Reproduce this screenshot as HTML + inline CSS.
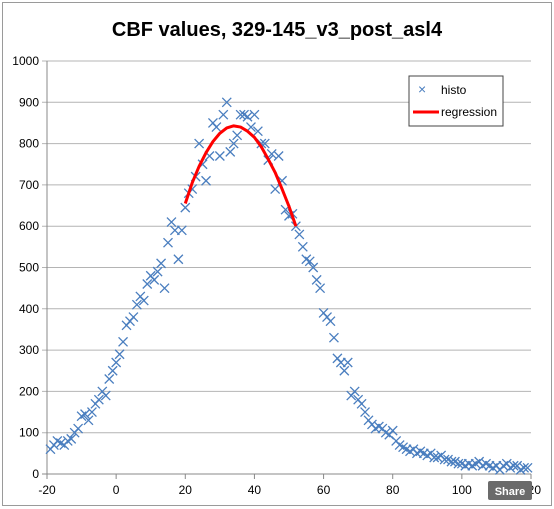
<!DOCTYPE html>
<html><head><meta charset="utf-8"><style>
body{margin:0;background:#fff;font-family:"Liberation Sans",sans-serif}
#frame{position:absolute;left:2px;top:2px;width:548px;height:502px;border:1px solid #9a9a9a;background:#fff}
</style></head><body>
<div id="frame"></div>
<svg id="chart" width="554" height="509" style="position:absolute;left:0;top:0">
<text x="277" y="36" text-anchor="middle" font-size="20" font-weight="bold" fill="#000">CBF values, 329-145_v3_post_asl4</text>
<g id="grid"></g><g id="axes"></g><g id="marks"></g>
<g>
<rect x="409" y="76" width="94" height="50" fill="#fff" stroke="#444"/>
<text x="418" y="94" font-size="14" fill="#4a7ebf">×</text>
<text x="441" y="94" font-size="12" fill="#000">histo</text>
<line x1="413" y1="112" x2="439" y2="112" stroke="#f00" stroke-width="3"/>
<text x="441" y="116" font-size="12" fill="#000">regression</text>
</g>
<g>
<rect x="488" y="481" width="44" height="19" fill="#6b6b6b" rx="2"/>
<text x="510" y="495" text-anchor="middle" font-size="11" font-weight="bold" fill="#fff">Share</text>
</g>
</svg>
<script>
const xs=[];for(let i=-19;i<=119;i++)xs.push(i);
const histo=[60,70,80,75,70,80,85,100,110,140,145,130,150,170,180,200,190,230,250,270,290,320,360,370,380,410,430,420,460,480,470,490,510,450,560,610,590,520,590,645,680,690,720,800,750,710,770,850,840,770,870,900,780,800,820,870,870,865,840,870,830,800,800,760,775,690,770,710,640,625,630,600,580,550,520,515,500,470,450,390,380,370,330,280,270,250,270,190,200,180,170,150,130,120,110,115,110,100,95,105,80,70,65,60,55,60,50,55,50,45,50,40,40,45,35,35,30,30,25,25,20,25,20,25,30,20,25,20,15,20,10,20,25,15,20,20,10,15,15];
const regX=[20,22,24,26,28,30,32,34,36,38,40,42,44,46,48,50,52];
const regY=[655,705,745,778,805,825,838,843,840,830,815,792,762,730,690,648,600];
const xTicks=[-20,0,20,40,60,80,100,120];
const yTicks=[0,100,200,300,400,500,600,700,800,900,1000];
const L=47,R=531,T=61,B=474;
const sx=v=>L+(v+20)/140*(R-L), sy=v=>B-v/1000*(B-T);
const NS="http://www.w3.org/2000/svg";
function mk(t,a,p){const e=document.createElementNS(NS,t);for(const k in a)e.setAttribute(k,a[k]);p.appendChild(e);return e;}
const g=document.getElementById('grid'),ax=document.getElementById('axes'),m=document.getElementById('marks');
yTicks.forEach(v=>{
 const l=mk('line',{x1:L-5,x2:R,y1:sy(v),y2:sy(v),stroke:v===0?'#888':'#b4b4b4','stroke-width':1},g);
 
 
 const t=mk('text',{x:L-8,y:sy(v)+4,'text-anchor':'end','font-size':12,fill:'#000'},ax);t.textContent=v;
 
 
});
mk('line',{x1:L,x2:L,y1:T,y2:B+5,stroke:'#888'},ax);
xTicks.forEach(v=>{
 mk('line',{x1:sx(v),x2:sx(v),y1:B,y2:B+5,stroke:'#888'},ax);
 const t=mk('text',{x:sx(v),y:B+20,'text-anchor':'middle','font-size':12,fill:'#000'},ax);t.textContent=v;
 
 
});
xs.forEach((x,i)=>{
 const cx=sx(x),cy=sy(histo[i]),d=4.5;
 const p=mk('path',{d:`M${cx-d},${cy-d}L${cx+d},${cy+d}M${cx-d},${cy+d}L${cx+d},${cy-d}`,stroke:'#4a7ebf','stroke-width':1.3,fill:'none'},m);
 
 
});
const rl=mk('polyline',{points:regX.map((x,i)=>sx(x)+','+sy(regY[i])).join(' '),stroke:'#f00','stroke-width':3,fill:'none','stroke-linejoin':'round'},m);


</script>
</body></html>
